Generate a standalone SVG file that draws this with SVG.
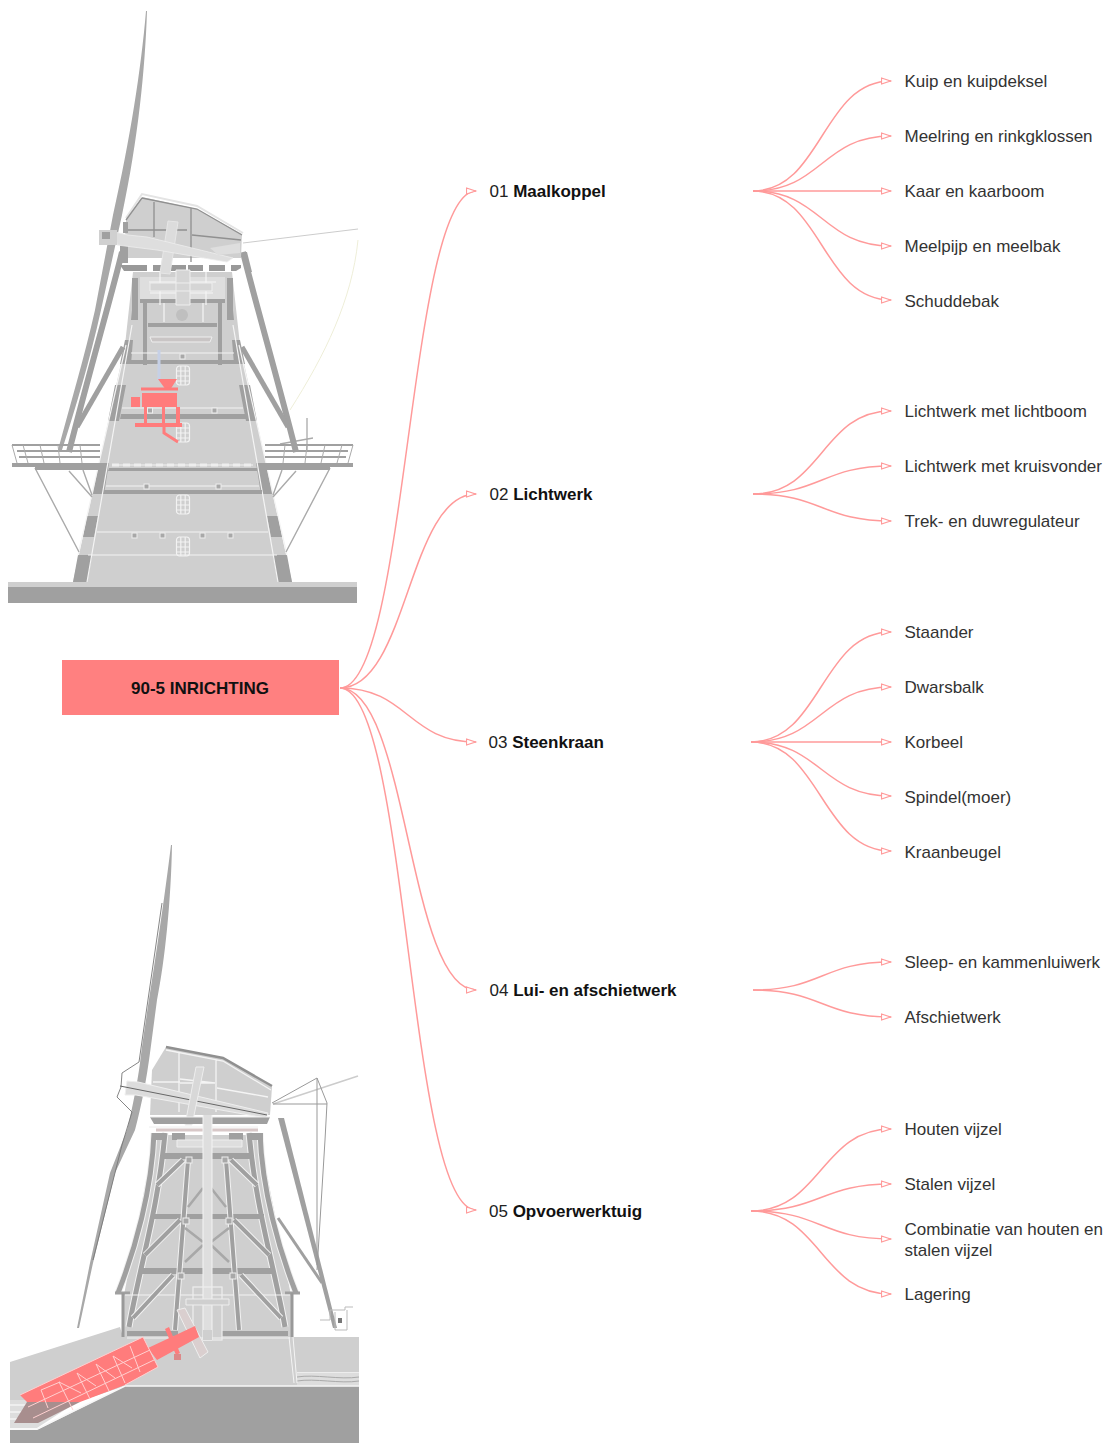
<svg xmlns="http://www.w3.org/2000/svg" xmlns:xlink="http://www.w3.org/1999/xlink" width="1115" height="1443" viewBox="0 0 1115 1443">
<style>
text{font-family:"Liberation Sans",Arial,sans-serif;font-size:17px;fill:#333}
.h{fill:#222}
.b{font-weight:700;fill:#111}
.c{fill:none;stroke:#ff9a9a;stroke-width:1.5}
.d{fill:#a0a0a0}
.l{fill:#cfcfcf}
.m{fill:#dedede}
.r{fill:#ff7b7b}
.w{fill:none;stroke:#f4f4f4;stroke-width:1.2}
.g{fill:none;stroke:#a0a0a0;stroke-width:5}
.o{fill:none;stroke:#777;stroke-width:.9}
.t{fill:none;stroke:#f2f2f2;stroke-width:7}
.sq{fill:#a8a8a8;stroke:#eee;stroke-width:1}
.wn{fill:none;stroke:#f2f2f2;stroke-width:1.2}
</style>
<defs>
<marker id="arr" markerUnits="userSpaceOnUse" markerWidth="12" markerHeight="10" refX="10.5" refY="4" orient="auto"><path d="M1 1 L10 4 L1 7Z" fill="#fff" stroke="#ff9a9a" stroke-width="1.2"/></marker>
<filter id="soft" x="-5%" y="-5%" width="110%" height="110%"><feGaussianBlur stdDeviation="0.4"/></filter>
<g id="win"><rect x="0" y="0" width="13" height="19" rx="3" class="wn"/><path class="wn" d="M4.3 0V19M8.7 0V19M0 5H13M0 10H13M0 15H13"/></g>
<g id="topHalf">
<path class="g" d="M243 252 C252 290 278 380 296 452" style="stroke-width:6"/>
<path class="g" d="M242 347 L288 427"/>
<path class="d" d="M73 582 L78 555 H92 L87 582Z M83 537 L87 516 H98 L94 537Z M93 494 L99 463 H109 L104 494Z M108 421 L115 385 H126 L119 421Z M120 364 L125 340 H133 L131 364Z M132 310 L132 278 H138 L138 320 H131Z"/>
<rect class="d" x="143" y="295" width="4" height="70"/>
<path class="w" d="M87 582 L132 325 M78 555 L126 345"/>
<path d="M35 468 L79 552 M69 471 L92 497 M83 470 L92 495" fill="none" stroke="#aaa" stroke-width="1.4"/>
<path d="M12 445 H100 M17 451 H100 M19 457 H100" fill="none" stroke="#a0a0a0" stroke-width="2"/>
<path d="M12 445 L17 463 M23 445 L28 463 M40 445 L44 463 M58 445 L60 463 M80 445 L82 463" fill="none" stroke="#aaa" stroke-width="1"/>
<rect class="d" x="12" y="463" width="88" height="4"/>
<rect class="d" x="35" y="467" width="65" height="3"/>
</g>
</defs>

<g id="mill-top" filter="url(#soft)">
<path d="M146 11 L147 11 C145 70 138 140 122 215 L101 310 C90 360 75 410 62 450 L58 450 C70 405 85 355 95 310 L113 215 C130 140 141 70 146 11Z" fill="#a8a8a8"/>
<path d="M243 243 L358 229" fill="none" stroke="#ccc" stroke-width="1"/>
<path d="M358 240 C352 300 325 355 290 410" fill="none" stroke="#eeeed8" stroke-width="1"/>
<path d="M307 418 V450 M280 444 L313 438" fill="none" stroke="#aaa" stroke-width="1.3"/>
<path class="l" d="M73 582 L125 345 L133 272 H232 L240 345 L292 582Z"/>
<use xlink:href="#topHalf"/>
<use xlink:href="#topHalf" transform="matrix(-1 0 0 1 365 0)"/>
<rect class="l" x="8" y="582" width="349" height="6"/>
<rect class="d" x="8" y="587" width="349" height="16"/>
<path d="M121 414 H246 V419 H120Z M109 468 H257 V471 H108Z M104 490 H262 V494 H104Z M131 360 H234 V364 H131Z M148 322 H217 V327 H148Z M140 298 H225 V303 H140Z" class="d"/>
<path class="w" d="M88 555 H277 M97 532 H268 M106 486 H259 M112 465 H253 M122 408 H243 M131 353 H234"/>
<path d="M112 465 H253" fill="none" stroke="#eee" stroke-width="3" stroke-dasharray="7 4"/>
<rect class="sq" x="147.500" y="408" width="5" height="5"/><rect class="sq" x="212" y="408" width="5" height="5"/><rect class="sq" x="180" y="354" width="5" height="5"/>
<rect class="sq" x="144" y="484" width="5" height="5"/><rect class="sq" x="216" y="484" width="5" height="5"/>
<rect class="sq" x="132" y="533" width="5" height="5"/><rect class="sq" x="160" y="533" width="5" height="5"/><rect class="sq" x="200" y="533" width="5" height="5"/><rect class="sq" x="228" y="533" width="5" height="5"/>
<use xlink:href="#win" x="176.500" y="366"/><use xlink:href="#win" x="176.500" y="423"/><use xlink:href="#win" x="176.500" y="495"/><use xlink:href="#win" x="176.500" y="537" transform="translate(0,0)"/>
<path class="l" d="M126 220 L142 197 L197 209 L242 234 L241 258 H120 L126 230Z"/>
<path d="M126 218 L142 194 L197 206 L243 233" fill="none" stroke="#e4e4e4" stroke-width="2"/>
<path d="M142 198 L197 209 L242 235 M126 220 L142 198 M154 202 V237 M191 208 V262 M128 230 H187 M192 235 L241 240" fill="none" stroke="#909090" stroke-width="1.3"/>
<path class="d" d="M123 222 H128 V233 H123Z M120 245 H128 V263 H120Z"/>
<path d="M120 265 H147 V271 H124 Z M153 265 H168 V271 H153Z M170 265 H186 V271 H170Z M188 265 H203 V271 H188Z M209 265 H225 V271 H209Z M231 265 H241 V268 L236 271 H231Z" fill="#999"/>
<rect class="m" x="140" y="277" width="85" height="22"/>
<rect class="l" x="148" y="303" width="70" height="20"/>
<path d="M160 272 V305 M206 272 V305 M149 282 H216 M150 293 H213 M164 303 V322 M203 303 V322" fill="none" stroke="#f5f5f5" stroke-width="1.200"/>
<path d="M150 283 H212 V291 H150Z M176 270 H190 V305 H176Z" fill="#d5d5d5" stroke="#eee"/>
<circle cx="182" cy="315" r="6" fill="#bfbfbf"/>
<path d="M150 337 H212 L210 342 H152Z" fill="#c9c5c5" stroke="#eee"/>
<path d="M159 350 V380" stroke="#c6d0e6" stroke-width="3" fill="none"/>
<path d="M168 221 L178 222 L170 274 L160 273Z" fill="#dcdcdc" stroke="#e6e6e6"/>
<path d="M115 232 L128 235 L147 237 L233 258 L227 262 L157 250 L117 245Z" fill="#dedede" stroke="#eee" stroke-width=".8"/>
<rect x="99" y="230" width="18" height="15" fill="#d0d0d0"/><rect x="102" y="232" width="8" height="7" fill="#a0a0a0"/>
<path d="M210 248 L240 243 V253 L218 255Z" fill="#dedede"/>
<path d="M243 252 L247 252 L252 272 L247 272Z" class="d"/>
<path class="r" d="M158 379 H177 L170 390 H166Z M142 393 H177 V407 H142Z M131 397 H140 V407 H131Z M144 407 H147 V425 H144Z M162 407 H165 V425 H162Z M176 407 H180 V425 H176Z M135 423 H182 V427 H135Z"/>
<path d="M164 427 V433 L178 442 M141 389 H178" fill="none" stroke="#ff7b7b" stroke-width="3"/>
<path d="M141 389 H178" fill="none" stroke="#ff7b7b" stroke-width="1"/>
</g>

<g id="mill-bottom" filter="url(#soft)">
<path d="M171 845 L172 845 C171 900 165 960 157 1000 L150 1053 C145 1090 140 1110 135 1130 L115 1173 L93 1263 L79 1328 L77 1328 L90 1263 L110 1173 L127 1130 C132 1110 137 1085 140 1063 C145 1020 158 950 171 845Z" fill="#a8a8a8"/>
<path d="M162 903 L139 1062 L122 1073 L121 1087 L117 1097 L132 1112 L122 1145 L93 1260" class="o"/>
<path class="l" d="M10 1362 L120 1327 L123 1337 H359 V1386 H125 L80 1401 H10Z"/>
<path class="l" d="M155 1135 H259 L292 1300 V1337 H123 V1300Z"/>
<path d="M10 1400 H80 L37 1428 H10Z" fill="#ddd"/>
<path d="M10 1405 H62 M10 1412 H50 M10 1419 H42" fill="none" stroke="#fff" stroke-width="1"/>
<path class="d" d="M125 1386 H359 V1443 H10 V1430 H37Z"/>
<path d="M125 1386 H359 M297 1373 H359 M37 1429 L125 1386 M10 1429 H37" fill="none" stroke="#f7f7f7" stroke-width="1.500"/>
<rect x="297" y="1373" width="62" height="12" fill="#ddd"/>
<path d="M297 1377 C315 1374 340 1380 359 1377 M297 1381 C315 1378 340 1384 359 1381" fill="none" stroke="#aaa" stroke-width="1"/>
<path d="M293 1337 L297 1383 M289 1337 L294 1383" fill="none" stroke="#f4f4f4" stroke-width="1"/>
<path class="t" d="M154 1133 C152 1190 135 1250 118 1293"/><path class="g" d="M154 1133 C152 1190 135 1250 118 1293"/>
<path class="t" d="M260 1133 C262 1190 279 1250 296 1293"/><path class="g" d="M260 1133 C262 1190 279 1250 296 1293"/>
<path class="t" d="M165 1133 C158 1210 140 1265 129 1327"/><path class="g" d="M165 1133 C158 1210 140 1265 129 1327"/>
<path class="t" d="M249 1133 C256 1210 274 1265 285 1327"/><path class="g" d="M249 1133 C256 1210 274 1265 285 1327"/>
<path d="M115 1293 H130 M285 1293 H300" stroke="#a0a0a0" stroke-width="3" fill="none"/>
<path d="M123 1293 V1337 M292 1293 V1337" stroke="#999" stroke-width="3" fill="none"/>
<path class="d" d="M161 1153 H253 V1159 H161Z M151 1214 H264 V1219 H151Z M142 1268 H273 V1274 H142Z M127 1331 H178 V1336 H127Z M222 1331 H288 V1336 H222Z"/>
<path class="w" d="M125 1295 H290 M127 1338 H290"/>
<g>
<path class="t" d="M188 1160 L175 1330 M226 1160 L239 1330 M183 1160 L157 1185 M231 1160 L257 1185 M180 1220 L145 1255 M234 1220 L269 1255 M173 1275 L133 1318 M241 1275 L281 1318" style="stroke-width:6"/>
<path class="g" d="M188 1160 L175 1330 M226 1160 L239 1330 M183 1160 L157 1185 M231 1160 L257 1185 M180 1220 L145 1255 M234 1220 L269 1255 M173 1275 L133 1318 M241 1275 L281 1318" style="stroke-width:4"/>
<path d="M203 1188 L188 1207 M211 1188 L226 1207 M185 1228 L203 1242 M229 1228 L211 1242 M185 1262 L203 1245 M229 1262 L211 1245" fill="none" stroke="#a8a8a8" stroke-width="2.500"/>
</g>
<rect class="sq" x="186" y="1157" width="6" height="6"/><rect class="sq" x="222" y="1157" width="6" height="6"/><rect class="sq" x="183" y="1218" width="6" height="6"/><rect class="sq" x="226" y="1218" width="6" height="6"/><rect class="sq" x="178" y="1273" width="6" height="6"/><rect class="sq" x="230" y="1273" width="6" height="6"/>
<path class="l" d="M152 1070 L166 1047 L223 1058 L272 1087 L270 1115 H150Z"/>
<path d="M166 1047 L223 1058 L272 1086" fill="none" stroke="#909090" stroke-width="2.500"/>
<path d="M166 1050 L223 1061 L271 1090 M179 1052 V1112 M216 1060 V1112 M153 1082 H180 M180 1083 H215 M217 1088 L268 1097 M180 1079 L215 1083" fill="none" stroke="#f4f4f4" stroke-width="1.300"/>
<path d="M138 1082 L268 1113 L266 1118 L136 1095 L125 1095 L127 1081Z" fill="#dcdcdc" stroke="#eee"/>
<path d="M120 1086 L267 1115" stroke="#666" stroke-width="1" fill="none"/>
<path d="M196 1067 L204 1067 L192 1125 L185 1125Z" fill="#d8d8d8" stroke="#eee"/>
<path d="M150 1117 H270 L267 1124 H154Z" class="d"/>
<path d="M150 1117 H270 M149 1127 H258" fill="none" stroke="#eee" stroke-width="1"/>
<path class="d" d="M152 1133 H166 V1140 H152Z M172 1133 H185 V1140 H172Z M229 1133 H243 V1140 H229Z M249 1133 H263 V1140 H249Z"/>
<path d="M156 1130 H258" fill="none" stroke="#d8c8c8" stroke-width="3"/>
<path d="M177 1140 H242 V1147 H177Z" fill="#dedede" stroke="#eee"/>
<rect x="203" y="1115" width="9" height="226" fill="#dedede"/>
<path d="M203 1115 V1340 M212 1115 V1340" stroke="#f4f4f4" fill="none"/>
<rect x="193" y="1287" width="29" height="53" fill="none" stroke="#eee" stroke-width="1.200"/>
<path d="M186 1299 H229 V1305 H186Z" fill="#cfcfcf" stroke="#eee"/>
<path d="M177 1310 L185 1308 L208 1352 L200 1358Z" fill="#dacfcf" stroke="#eee"/>
<rect x="203" y="1330" width="9" height="10" fill="#cfcfcf"/>
<path class="d" d="M278 1118 L284 1118 L337 1328 L333 1328Z"/>
<path class="g" d="M278 1218 L322 1283" style="stroke-width:3"/>
<path d="M273 1104 L358 1076" fill="none" stroke="#ccc" stroke-width="1.500"/>
<path d="M272 1103 L317 1078 L327 1103 L325 1140 L317 1270 M317 1078 V1265 M273 1104 H327" fill="none" stroke="#999" stroke-width="1"/>
<path d="M320 1320 H330 V1310 H345 V1307 H353 M335 1312 V1330 H347 V1310" fill="none" stroke="#bbb" stroke-width="1"/>
<rect x="338" y="1318" width="4" height="5" fill="#777"/>
<path class="r" d="M20 1395 L143 1337 L158 1367 L125 1385 L80 1402 L27 1402Z"/>
<path d="M27 1402 H80 L38 1423 H14Z" fill="#a88e8e"/>
<path class="r" d="M148 1348 L195 1326 L199 1337 L157 1360Z M165 1329 L169 1327 L180 1353 L176 1355Z"/>
<rect x="174" y="1354" width="7" height="6" fill="#d88"/>
<path d="M20 1395 L143 1337 L158 1367 L125 1385 M28 1407 L150 1350 M33 1418 L154 1360 M41 1390 L48 1408 M59 1382 L73 1410 M77 1373 L90 1399 M96 1364 L109 1391 M113 1356 L125 1383 M130 1346 L140 1372 M41 1390 L60 1382 M59 1382 L81 1393 M77 1373 L96 1386 M96 1364 L115 1378 M113 1356 L132 1368" fill="none" stroke="#ffd0d0" stroke-width="1"/>
</g>

<g id="connectors">
<path class="c" marker-end="url(#arr)" d="M340 688 C408 688 408 191 476 191"/>
<path class="c" marker-end="url(#arr)" d="M340 688 C408 688 408 494 476 494"/>
<path class="c" marker-end="url(#arr)" d="M340 688 C408 688 408 742 476 742"/>
<path class="c" marker-end="url(#arr)" d="M340 688 C408 688 408 990 476 990"/>
<path class="c" marker-end="url(#arr)" d="M340 688 C408 688 408 1210 476 1210"/>
<path class="c" marker-end="url(#arr)" d="M753 191 C822 191 822 81 891 81"/>
<path class="c" marker-end="url(#arr)" d="M753 191 C822 191 822 136 891 136"/>
<path class="c" marker-end="url(#arr)" d="M753 191 H891"/>
<path class="c" marker-end="url(#arr)" d="M753 191 C822 191 822 246 891 246"/>
<path class="c" marker-end="url(#arr)" d="M753 191 C822 191 822 300 891 300"/>
<path class="c" marker-end="url(#arr)" d="M753 494 C822 494 822 411 891 411"/>
<path class="c" marker-end="url(#arr)" d="M753 494 C822 494 822 466 891 466"/>
<path class="c" marker-end="url(#arr)" d="M753 494 C822 494 822 521 891 521"/>
<path class="c" marker-end="url(#arr)" d="M751 742 C821 742 821 632 891 632"/>
<path class="c" marker-end="url(#arr)" d="M751 742 C821 742 821 687 891 687"/>
<path class="c" marker-end="url(#arr)" d="M751 742 H891"/>
<path class="c" marker-end="url(#arr)" d="M751 742 C821 742 821 796 891 796"/>
<path class="c" marker-end="url(#arr)" d="M751 742 C821 742 821 851 891 851"/>
<path class="c" marker-end="url(#arr)" d="M753 990 C822 990 822 962 891 962"/>
<path class="c" marker-end="url(#arr)" d="M753 990 C822 990 822 1017 891 1017"/>
<path class="c" marker-end="url(#arr)" d="M751 1211 C821 1211 821 1129 891 1129"/>
<path class="c" marker-end="url(#arr)" d="M751 1211 C821 1211 821 1184 891 1184"/>
<path class="c" marker-end="url(#arr)" d="M751 1211 C821 1211 821 1239 891 1239"/>
<path class="c" marker-end="url(#arr)" d="M751 1211 C821 1211 821 1294 891 1294"/>
</g>

<g id="root"><rect x="62" y="660" width="277" height="55" fill="#ff8080"/><text x="200" y="693.500" text-anchor="middle" class="b">90-5 INRICHTING</text></g>
<g id="n01"><text x="489.500" y="197" class="h">01 <tspan class="b">Maalkoppel</tspan></text></g>
<g id="n02"><text x="489.500" y="500" class="h">02 <tspan class="b">Lichtwerk</tspan></text></g>
<g id="n03"><text x="488.500" y="748" class="h">03 <tspan class="b">Steenkraan</tspan></text></g>
<g id="n04"><text x="489.500" y="996" class="h">04 <tspan class="b">Lui- en afschietwerk</tspan></text></g>
<g id="n05"><text x="489" y="1217" class="h">05 <tspan class="b">Opvoerwerktuig</tspan></text></g>
<g id="n01a"><text x="904.500" y="87">Kuip en kuipdeksel</text></g>
<g id="n01b"><text x="904.500" y="142">Meelring en rinkgklossen</text></g>
<g id="n01c"><text x="904.500" y="197">Kaar en kaarboom</text></g>
<g id="n01d"><text x="904.500" y="252">Meelpijp en meelbak</text></g>
<g id="n01e"><text x="904.500" y="307">Schuddebak</text></g>
<g id="n02a"><text x="904.500" y="417">Lichtwerk met lichtboom</text></g>
<g id="n02b"><text x="904.500" y="472">Lichtwerk met kruisvonder</text></g>
<g id="n02c"><text x="904.500" y="527">Trek- en duwregulateur</text></g>
<g id="n03a"><text x="904.500" y="638">Staander</text></g>
<g id="n03b"><text x="904.500" y="693">Dwarsbalk</text></g>
<g id="n03c"><text x="904.500" y="748">Korbeel</text></g>
<g id="n03d"><text x="904.500" y="803">Spindel(moer)</text></g>
<g id="n03e"><text x="904.500" y="858">Kraanbeugel</text></g>
<g id="n04a"><text x="904.500" y="968">Sleep- en kammenluiwerk</text></g>
<g id="n04b"><text x="904.500" y="1023">Afschietwerk</text></g>
<g id="n05a"><text x="904.500" y="1135">Houten vijzel</text></g>
<g id="n05b"><text x="904.500" y="1190">Stalen vijzel</text></g>
<g id="n05c"><text x="904.500" y="1235">Combinatie van houten en</text><text x="904.500" y="1256">stalen vijzel</text></g>
<g id="n05d"><text x="904.500" y="1300">Lagering</text></g>
</svg>
